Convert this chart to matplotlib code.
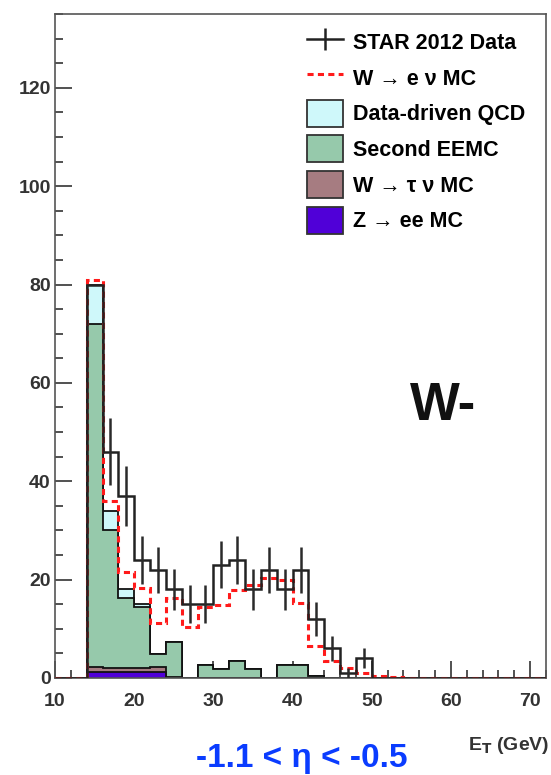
import numpy as np
import matplotlib
matplotlib.use("Agg")
from matplotlib import pyplot as plt
from matplotlib.lines import Line2D
from matplotlib.patches import Patch
from matplotlib.ticker import MultipleLocator

plt.rcParams['font.family'] = ['Liberation Sans', 'DejaVu Sans']
plt.rcParams['font.weight'] = 'bold'

# E_T binning, 2 GeV bins from 10 to 72
edges = np.arange(10, 73, 2)

# STAR 2012 data (counts per bin)
data = [0, 0, 80, 46, 37, 24, 22, 18, 15, 15, 23, 24, 18, 22, 18, 22, 12, 6, 1, 4,
        0, 0, 0, 0, 0, 0, 0, 0, 0, 0, 0]
# W -> e nu MC
wenu = [0, 0, 81, 36, 21.5, 18.3, 11.2, 16.3, 10.4, 14.5, 14.9, 17.9, 18.9, 20.4, 20.0,
        15.2, 6.6, 3.4, 2.0, 1.1, 0.5, 0.2, 0, 0, 0, 0, 0, 0, 0, 0, 0]
# stacked backgrounds
zee = [0, 0, 1.3, 1.2, 1.2, 1.2, 1.2, 0, 0, 0, 0, 0, 0, 0, 0, 0,
       0, 0, 0, 0, 0, 0, 0, 0, 0, 0, 0, 0, 0, 0, 0]
wtau = [0, 0, 1.0, 0.9, 0.9, 0.8, 1.0, 0.3, 0, 0, 0, 0, 0, 0, 0, 0,
        0, 0, 0, 0, 0, 0, 0, 0, 0, 0, 0, 0, 0, 0, 0]
eemc = [0, 0, 69.7, 28.0, 14.2, 12.5, 2.7, 7.0, 0, 2.6, 1.8, 3.5, 1.8, 0, 2.6, 2.6,
        0.5, 0, 0, 0, 0, 0, 0, 0, 0, 0, 0, 0, 0, 0, 0]
qcd = [0, 0, 8.0, 3.9, 1.7, 0.5, 0, 0, 0, 0, 0, 0, 0, 0, 0, 0,
       0, 0, 0, 0, 0, 0, 0, 0, 0, 0, 0, 0, 0, 0, 0]

labels = ['STAR 2012 Data', 'W → e ν MC', 'Data-driven QCD',
          'Second EEMC', 'W → τ ν MC', 'Z → ee MC']
colors = {'qcd': '#cff8fa', 'eemc': '#96c9ab', 'wtau': '#a67c81', 'zee': '#5000d8'}

fig = plt.figure(figsize=(5.51, 7.75), dpi=100)
ax = fig.add_axes([55 / 551, 97 / 775, 491 / 551, 664 / 775])

# stack: draw cumulative sums from the top layer down
c1 = np.array(zee)
c2 = c1 + np.array(wtau)
c3 = c2 + np.array(eemc)
c4 = c3 + np.array(qcd)
for cum, key in [(c4, 'qcd'), (c3, 'eemc'), (c2, 'wtau'), (c1, 'zee')]:
    ax.stairs(cum, edges, baseline=0, fill=True, facecolor=colors[key],
              edgecolor='#111111', linewidth=1.3, zorder=2)

ax.stairs(wenu, edges, color='#ff1a1a', linewidth=2.2, linestyle=(0, (2.0, 1.4)), zorder=3)

d = np.array(data, dtype=float)
centers = 0.5 * (edges[:-1] + edges[1:])
ax.stairs(d, edges, color='#222222', linewidth=1.8, zorder=4)
err = np.sqrt(d)
err[2] = 0  # no visible error bar on the first filled bin
m = err > 0
ax.errorbar(centers[m], d[m], yerr=err[m], fmt='none', ecolor='#2a2a2a',
            elinewidth=1.8, capsize=0, zorder=4)

ax.set_xlim(10, 72)
ax.set_ylim(0, 135)
ax.xaxis.set_major_locator(MultipleLocator(10))
ax.xaxis.set_minor_locator(MultipleLocator(2))
ax.yaxis.set_major_locator(MultipleLocator(20))
ax.yaxis.set_minor_locator(MultipleLocator(5))
ax.set_axisbelow(True)
ax.tick_params(which='both', direction='in', top=False, right=False, color='#333333', width=1.2)
ax.tick_params(which='major', length=12)
ax.tick_params(which='minor', length=6)
ax.tick_params(axis='x', which='major', labelsize=14, labelcolor='#333333', pad=11)
ax.tick_params(axis='y', which='major', labelsize=14, labelcolor='#333333', pad=3)
for s in ax.spines.values():
    s.set_color('#555555')
    s.set_linewidth(1.2)

# legend
handles = [
    Line2D([], [], color='#222222', linewidth=1.8, marker='|', markersize=16, markeredgewidth=1.8),
    Line2D([], [], color='#ff1a1a', linewidth=2.2, linestyle=(0, (2.0, 1.4))),
    Patch(facecolor=colors['qcd'], edgecolor='#333333', linewidth=1.3),
    Patch(facecolor=colors['eemc'], edgecolor='#333333', linewidth=1.3),
    Patch(facecolor=colors['wtau'], edgecolor='#333333', linewidth=1.3),
    Patch(facecolor=colors['zee'], edgecolor='#333333', linewidth=1.3),
]
fig.legend(handles, labels, loc='upper left', bbox_to_anchor=(307 / 551, 1 - 28.5 / 775),
           frameon=False, handlelength=1.67, handleheight=1.555,
           labelspacing=0.40, handletextpad=0.47, borderpad=0, borderaxespad=0,
           prop={'weight': 'bold', 'size': 15.5})

ax.text(0.79, 0.41, 'W-', transform=ax.transAxes, fontsize=38, fontweight='bold',
        ha='center', va='center', color='#111111')

fig.text(549 / 551, 1 - 745 / 775, r'E$_{\mathbf{T}}$ (GeV)', ha='right', va='center',
         fontsize=14, fontweight='bold', color='#333333')
fig.text(302 / 551, 8 / 775, '-1.1 < η < -0.5', ha='center', va='baseline',
         fontsize=24, fontweight='bold', color='#0a3cff')

fig.savefig('out.png', dpi=100)
